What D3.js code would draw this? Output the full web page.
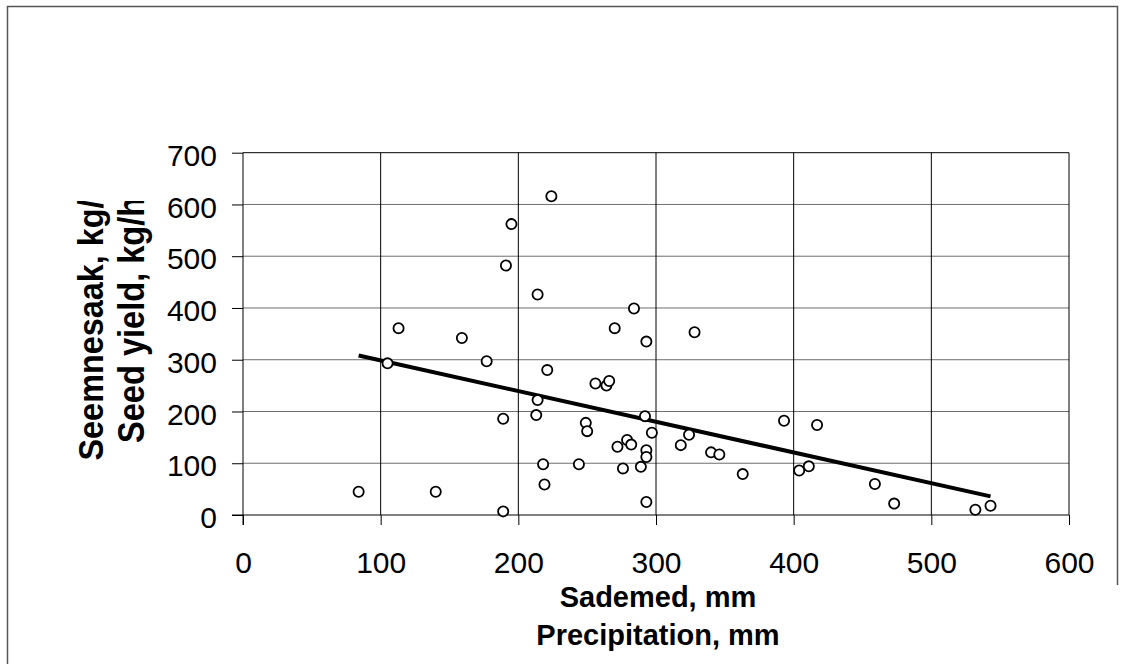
<!DOCTYPE html>
<html>
<head>
<meta charset="utf-8">
<script src="https://cdn.jsdelivr.net/npm/d3@7"></script>
<style>
  body { margin: 0; background: #fff; }
  svg { display: block; font-family: "Liberation Sans", Arial, sans-serif; }
</style>
</head>
<body>
<div id="chart"></div>
<script>
// precipitation (mm) and seed yield (kg/ha)
const precip = [84, 105, 113, 140, 159, 177, 189, 189, 191, 195,
                213, 214, 214, 218, 219, 221, 224, 244, 249, 250,
                256, 264, 266, 270, 272, 276, 279, 282, 284, 289,
                292, 293, 293, 293, 293, 297, 318, 324, 328, 340,
                346, 363, 393, 404, 411, 417, 459, 473, 532, 543];
const yieldKg = [45, 293, 361, 45, 342, 297, 186, 7, 482, 562,
                 193, 426, 222, 98, 59, 280, 616, 98, 178, 162,
                 254, 250, 259, 361, 132, 90, 145, 136, 399, 93,
                 191, 335, 125, 112, 25, 159, 135, 155, 353, 121,
                 117, 79, 182, 86, 94, 174, 60, 22, 10, 18];
const xTicks = [0, 100, 200, 300, 400, 500, 600];
const yTicks = [0, 100, 200, 300, 400, 500, 600, 700];
const xTitle = ["Sademed, mm", "Precipitation, mm"];
const yTitle = ["Seemnesaak, kg/ha", "Seed yield, kg/ha"];

const width = 1126, height = 664;
const plotL = 243, plotR = 1069, plotT = 152.7, plotB = 515;

const svg = d3.select("#chart").append("svg")
  .attr("width", width)
  .attr("height", height);

// outer chart frame
svg.append("path")
  .attr("d", "M7.5,664 V6.5 H1117.5 V585")
  .attr("fill", "none")
  .attr("stroke", "#555")
  .attr("stroke-width", 1.5);

const x = d3.scaleLinear().domain([0, 600]).range([plotL, plotR]);
const y = d3.scaleLinear().domain([0, 700]).range([plotB, plotT]);

// gridlines
svg.append("g").selectAll("line")
  .data(yTicks.slice(1))
  .join("line")
  .attr("x1", plotL).attr("x2", plotR)
  .attr("y1", d => y(d)).attr("y2", d => y(d))
  .attr("stroke", d => d === 700 ? "#000" : "#6e6e6e")
  .attr("stroke-width", 1);

svg.append("g").selectAll("line")
  .data(xTicks.slice(1))
  .join("line")
  .attr("x1", d => x(d)).attr("x2", d => x(d))
  .attr("y1", plotT).attr("y2", plotB)
  .attr("stroke", "#000")
  .attr("stroke-width", 1);

// axes
const xAxis = svg.append("g")
  .attr("transform", `translate(0,${plotB})`)
  .call(d3.axisBottom(x).tickValues(xTicks).tickSize(10).tickPadding(27));
const yAxis = svg.append("g")
  .attr("transform", `translate(${plotL},0)`)
  .call(d3.axisLeft(y).tickValues(yTicks).tickSize(11).tickPadding(15));

[xAxis, yAxis].forEach(a => {
  a.select(".domain").remove();
  a.selectAll(".tick line").attr("stroke", "#000");
  a.selectAll("text")
    .attr("fill", "#000")
    .style("font-size", "30px")
    .style("font-family", "'Liberation Sans', Arial, sans-serif");
});
yAxis.selectAll("text").attr("dy", "0.42em");

svg.append("line")
  .attr("x1", plotL).attr("x2", plotL)
  .attr("y1", plotT).attr("y2", plotB + 10)
  .attr("stroke", "#000");
svg.append("line")
  .attr("x1", plotL - 11).attr("x2", plotR)
  .attr("y1", plotB).attr("y2", plotB)
  .attr("stroke", "#000");

// linear trend line over the data range
const mx = d3.mean(precip), my = d3.mean(yieldKg);
const slope = d3.sum(precip, (v, i) => (v - mx) * (yieldKg[i] - my)) /
              d3.sum(precip, v => (v - mx) * (v - mx));
const icpt = my - slope * mx;
const [x0, x1] = d3.extent(precip);

svg.append("line")
  .attr("x1", x(x0)).attr("y1", y(icpt + slope * x0))
  .attr("x2", x(x1)).attr("y2", y(icpt + slope * x1))
  .attr("stroke", "#000")
  .attr("stroke-width", 4);

// points
svg.append("g").selectAll("circle")
  .data(precip.map((p, i) => [p, yieldKg[i]]))
  .join("circle")
  .attr("cx", d => x(d[0]))
  .attr("cy", d => y(d[1]))
  .attr("r", 5.1)
  .attr("fill", "#fff")
  .attr("stroke", "#000")
  .attr("stroke-width", 1.8);

// axis titles
svg.selectAll(".xtitle")
  .data(xTitle)
  .join("text")
  .attr("x", 658)
  .attr("y", (d, i) => i === 0 ? 606.5 : 645)
  .attr("text-anchor", "middle")
  .style("font-size", "29px")
  .style("font-weight", "bold")
  .text(d => d);

svg.append("clipPath").attr("id", "yclip")
  .append("rect").attr("x", 0).attr("y", 201).attr("width", 200).attr("height", 400);

svg.append("g").attr("clip-path", "url(#yclip)")
  .selectAll("text")
  .data(yTitle)
  .join("text")
  .attr("transform", (d, i) => i === 0
    ? "translate(103,460.5) rotate(-90) scale(0.9,1)"
    : "translate(144,443) rotate(-90) scale(0.905,1)")
  .style("font-size", "36px")
  .style("font-weight", "bold")
  .text(d => d);
</script>
</body>
</html>
